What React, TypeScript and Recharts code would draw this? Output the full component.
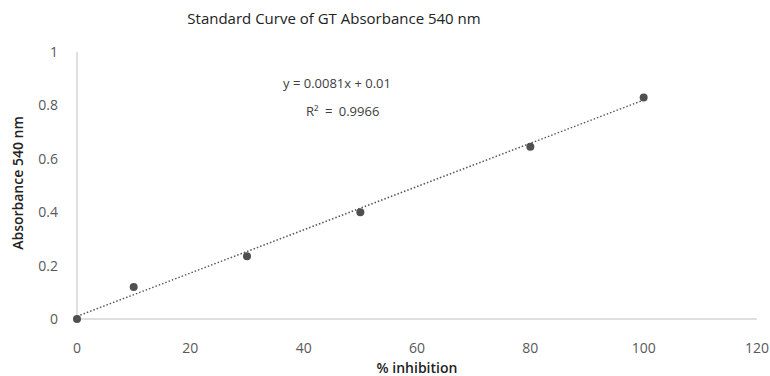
import { ComposedChart, Scatter, Line, XAxis, YAxis } from "recharts";

const inhibition = [0, 10, 30, 50, 80, 100];
const absorbance = [0, 0.12, 0.235, 0.4, 0.645, 0.83];
const trendX = [0, 100];
const trendY = [0.01, 0.82];
const xTicks = [0, 20, 40, 60, 80, 100, 120];
const yTicks = [0, 0.2, 0.4, 0.6, 0.8, 1];

const points = inhibition.map((x, i) => ({ x, y: absorbance[i] }));
const trend = trendX.map((x, i) => ({ x, y: trendY[i] }));

const font = "'Open Sans', 'Noto Sans', sans-serif";
const tickStyle = { fontSize: 14, fill: "#595959", fontFamily: font };

export default function App() {
  return (
    <div style={{ position: "absolute", left: 0, top: 0, width: 770, height: 376, background: "#fff", fontFamily: font }}>
      <div style={{ position: "absolute", left: 0, width: 668, top: 8, textAlign: "center", fontSize: 15, color: "#222" }}>
        Standard Curve of GT Absorbance 540 nm
      </div>
      <div style={{ position: "absolute", left: 283, top: 74, fontSize: 13, color: "#404040" }}>
        y = 0.0081x + 0.01
      </div>
      <div style={{ position: "absolute", left: 306, top: 102, fontSize: 13, color: "#404040", wordSpacing: 3 }}>
        R² = 0.9966
      </div>
      <div
        style={{
          position: "absolute", left: 18, top: 183, width: 200, marginLeft: -100, marginTop: -10,
          height: 20, lineHeight: "20px", textAlign: "center", transform: "rotate(-90deg)",
          fontSize: 14, fontWeight: 600, color: "#222", zIndex: 1,
        }}
      >
        Absorbance 540 nm
      </div>
      <ComposedChart width={770} height={376} margin={{ top: 52, right: 13, left: 17, bottom: 27 }}>
        <XAxis
          type="number"
          dataKey="x"
          domain={[0, 120]}
          ticks={xTicks}
          tickLine={false}
          tickSize={0}
          tickMargin={24}
          height={30}
          stroke="#bfbfbf"
          tick={tickStyle}
          label={{ value: "% inhibition", position: "insideBottom", offset: -24, style: { fontSize: 14, fill: "#222", fontWeight: 600, fontFamily: font } }}
        />
        <YAxis
          type="number"
          dataKey="y"
          domain={[0, 1]}
          ticks={yTicks}
          tickLine={false}
          tickSize={0}
          tickMargin={19}
          width={60}
          stroke="#bfbfbf"
          tick={tickStyle}
        />
        <Line
          data={trend}
          dataKey="y"
          type="linear"
          stroke="#555"
          strokeWidth={1.5}
          strokeDasharray="1.5 2"
          dot={false}
          activeDot={false}
          isAnimationActive={false}
        />
        <Scatter data={points} dataKey="y" fill="#505050" isAnimationActive={false}
          shape={(p: any) => <circle cx={p.cx} cy={p.cy} r={4} fill="#505050" />} />
      </ComposedChart>
    </div>
  );
}
